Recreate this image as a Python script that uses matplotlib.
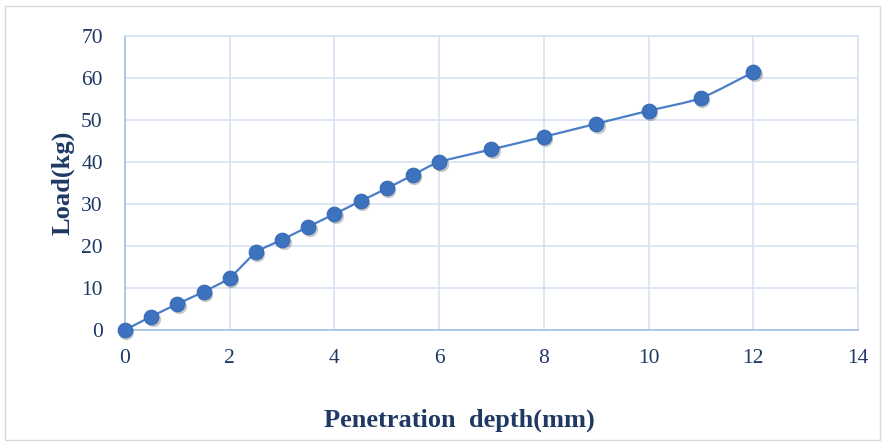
import numpy as np
import matplotlib
matplotlib.use("Agg")
import matplotlib.pyplot as plt
from matplotlib.path import Path
from matplotlib.patches import PathPatch, Rectangle
from matplotlib.transforms import offset_copy

depth = [0, 0.5, 1, 1.5, 2, 2.5, 3, 3.5, 4, 4.5, 5, 5.5, 6, 7, 8, 9, 10, 11, 12]
load = [0, 3.2, 6.2, 9.1, 12.4, 18.5, 21.5, 24.6, 27.6, 30.7, 33.7, 36.9, 40.0, 43.0, 46.0, 49.1, 52.2, 55.2, 61.4]
xticks = [0, 2, 4, 6, 8, 10, 12, 14]
yticks = [0, 10, 20, 30, 40, 50, 60, 70]

navy = "#1F3864"
line_c = "#4A7EC6"
mark_c = "#3D72BE"
grid_c = "#D5E2F3"

plt.rcParams['font.family'] = ['Liberation Serif', 'DejaVu Serif']

fig = plt.figure(figsize=(8.87, 4.43), dpi=100)
fig.patches.append(Rectangle((5/887, 3/443), 875/887, 434/443, transform=fig.transFigure,
                             fill=False, edgecolor="#D9D9D9", lw=1.0))
ax = fig.add_axes([125/887, 1-330/443, 733/887, 294/443])

# smooth (Catmull-Rom) curve through the points, as in Excel's smoothed line
x = np.array(depth, float); y = np.array(load, float)
verts = [(x[0], y[0])]; codes = [Path.MOVETO]
n = len(x)
for i in range(n-1):
    p0 = np.array([x[max(i-1, 0)], y[max(i-1, 0)]])
    p1 = np.array([x[i], y[i]]); p2 = np.array([x[i+1], y[i+1]])
    p3 = np.array([x[min(i+2, n-1)], y[min(i+2, n-1)]])
    t = 0.1
    c1 = p1 + (p2 - p0) * t
    c2 = p2 - (p3 - p1) * t
    verts += [tuple(c1), tuple(c2), tuple(p2)]
    codes += [Path.CURVE4] * 3
ax.add_patch(PathPatch(Path(verts, codes), fill=False, edgecolor=line_c, lw=1.6, zorder=3))

shadow_tr = offset_copy(ax.transData, fig=fig, x=1.5, y=-2.0, units='dots')
ax.plot(depth, load, linestyle='none', marker='o', ms=11, color='#000000', alpha=0.22,
        markeredgewidth=0, transform=shadow_tr, zorder=3.5, clip_on=False)
ax.plot(depth, load, linestyle='none', marker='o', ms=10.5, color=mark_c, markeredgecolor='#3568B3',
        markeredgewidth=0.8, zorder=4, clip_on=False)

ax.set_xlim(0, 14)
ax.set_ylim(0, 70)
ax.set_xticks(xticks)
ax.set_yticks(yticks)
ax.grid(True, color=grid_c, lw=1.2)
ax.set_axisbelow(True)
for s in ['top', 'right']:
    ax.spines[s].set_color(grid_c)
    ax.spines[s].set_linewidth(1.2)
for s in ['left', 'bottom']:
    ax.spines[s].set_color("#A8C3E8")
    ax.spines[s].set_linewidth(1.3)
ax.tick_params(length=0, labelsize=15.5, colors=navy, pad=14)
ax.tick_params(axis='y', pad=16)
ax.set_xlabel("Penetration  depth(mm)", fontsize=19, fontweight='bold', color=navy, va='center')
ax.xaxis.set_label_coords(0.456, -0.306)
ax.set_ylabel("Load(kg)", fontsize=19, fontweight='bold', color=navy, labelpad=5)

fig.savefig("out.png", dpi=100)
